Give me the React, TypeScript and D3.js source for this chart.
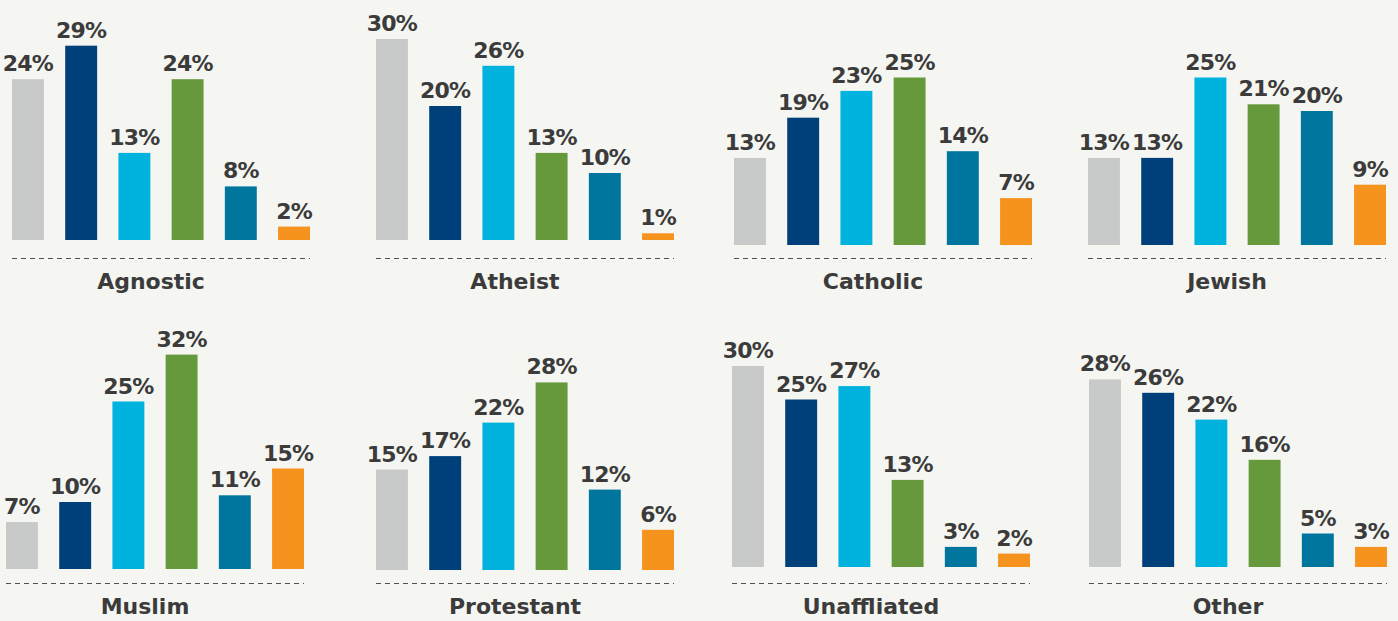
import * as d3 from "d3";

// Religious groups shown as small multiples
const groups = ["Agnostic", "Atheist", "Catholic", "Jewish", "Muslim", "Protestant", "Unaffliated", "Other"];
// Six response categories per group (no legend in the source)
const categories = ["c1", "c2", "c3", "c4", "c5", "c6"];
const colors = ["#c8c9c9", "#00407a", "#00b3de", "#65993c", "#00769f", "#f6921e"];

const agnostic = [24, 29, 13, 24, 8, 2];
const atheist = [30, 20, 26, 13, 10, 1];
const catholic = [13, 19, 23, 25, 14, 7];
const jewish = [13, 13, 25, 21, 20, 9];
const muslim = [7, 10, 25, 32, 11, 15];
const protestant = [15, 17, 22, 28, 12, 6];
const unaffiliated = [30, 25, 27, 13, 3, 2];
const other = [28, 26, 22, 16, 5, 3];

const values = [agnostic, atheist, catholic, jewish, muslim, protestant, unaffiliated, other];

const W = 1398;
const H = 621;
const PANEL_W = 298;
const LABEL_X = 139;
const FONT = "'DejaVu Sans', sans-serif";
const TEXT = "#3b3b3b";

// panel placement: left edge, bar baseline, dashed rule
const LAYOUT = [
  { x: 12, base: 240, rule: 258 },
  { x: 376, base: 240, rule: 258 },
  { x: 734, base: 245, rule: 258 },
  { x: 1088, base: 245, rule: 258 },
  { x: 6, base: 569, rule: 583 },
  { x: 376, base: 570, rule: 583 },
  { x: 732, base: 567, rule: 583 },
  { x: 1089, base: 567, rule: 583 },
];

export default function App() {
  const x = d3.scaleBand<string>().domain(categories).range([0, PANEL_W]).paddingInner(0.4).paddingOuter(0);
  const h = d3.scaleLinear().domain([0, 32]).range([0, 214.4]);

  return (
    <div style={{ position: "absolute", left: 0, top: 0 }}>
      <svg width={W} height={H} style={{ display: "block", background: "#f5f5f1" }}>
        {groups.map((g, gi) => {
          const L = LAYOUT[gi];
          return (
            <g key={g} transform={`translate(${L.x},0)`}>
              {values[gi].map((v, i) => {
                const bx = x(categories[i]) ?? 0;
                const bh = h(v);
                return (
                  <g key={i}>
                    <rect x={bx} y={L.base - bh} width={x.bandwidth()} height={bh} fill={colors[i]} />
                    <text
                      x={bx + x.bandwidth() / 2}
                      y={L.base - bh - 8}
                      textAnchor="middle"
                      fontFamily={FONT}
                      fontWeight="bold"
                      fontSize={22}
                      letterSpacing={-0.8}
                      fill={TEXT}
                    >
                      {v}%
                    </text>
                  </g>
                );
              })}
              <line
                x1={0}
                x2={PANEL_W}
                y1={L.rule + 0.5}
                y2={L.rule + 0.5}
                stroke="#505050"
                strokeWidth={1}
                strokeDasharray="5,4"
              />
              <text
                x={LABEL_X}
                y={L.rule + 31}
                textAnchor="middle"
                fontFamily={FONT}
                fontWeight="bold"
                fontSize={22}
                fill={TEXT}
              >
                {g}
              </text>
            </g>
          );
        })}
      </svg>
    </div>
  );
}
